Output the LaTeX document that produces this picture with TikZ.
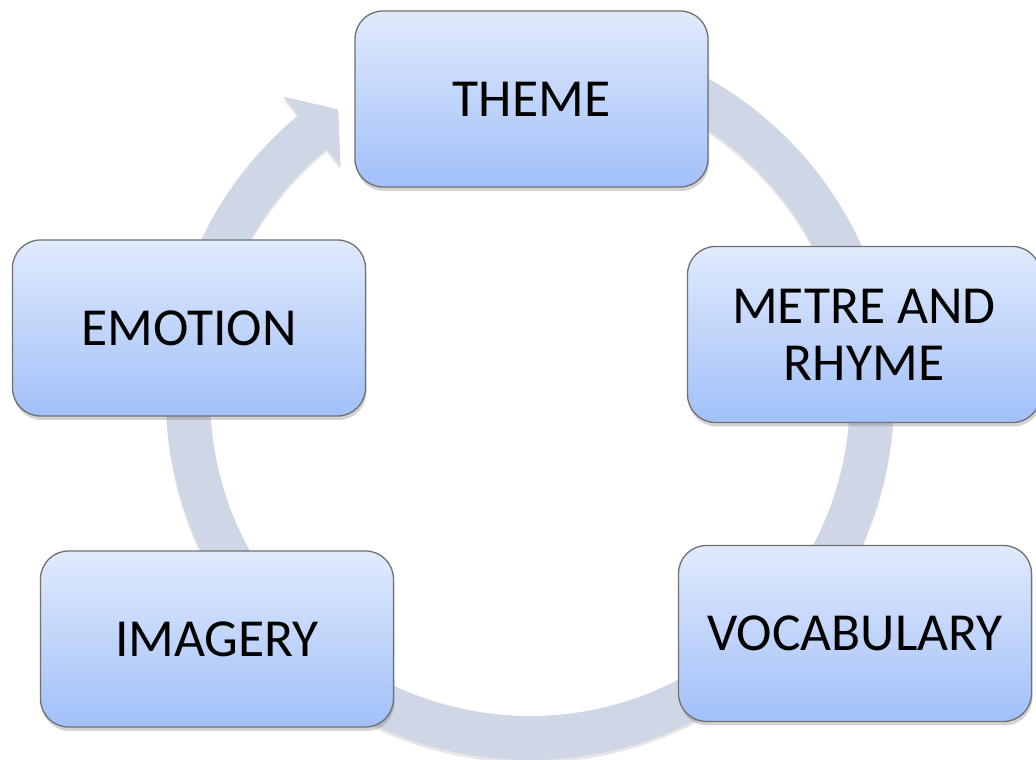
\documentclass[tikz,border=0pt]{standalone}
\usepackage{fontspec}
\setmainfont{Carlito}
\usetikzlibrary{shadows}
\definecolor{ringfill}{RGB}{207,214,229}
\definecolor{boxtop}{RGB}{224,234,252}
\definecolor{boxbot}{RGB}{161,192,249}
\definecolor{boxline}{RGB}{112,112,112}
\begin{document}
\begin{tikzpicture}[x=1pt,y=1pt,
  stage/.style={draw=boxline, line width=1.3pt, rounded corners=28pt,
    top color=boxtop, bottom color=boxbot,
    minimum width=353pt, minimum height=176pt, inner sep=0pt,
    align=center, font=\fontsize{53.5}{57}\selectfont,
    drop shadow={shadow xshift=1pt, shadow yshift=-4pt, opacity=0.35}},
  ring/.style={fill=ringfill,
    drop shadow={shadow xshift=0pt, shadow yshift=-3pt, opacity=0.2}}]
\useasboundingbox (0,0) rectangle (1036,760);

% continuous cycle band with its arrowhead
\begin{scope}[shift={(530,364)}]
  \fill[ring] (80:364) arc[start angle=80, end angle=-230.5, radius=364]
    -- (-230.5:388) -- (-236.2:345) -- (-230.5:298) -- (-230.5:320)
    arc[start angle=-230.5, end angle=80, radius=320] -- cycle;
\end{scope}

% stages of the cycle
\node[stage] (theme)   at (531.5,661) {THEME};
\node[stage] (metre)   at (864,425.5) {METRE AND\\RHYME};
\node[stage] (vocab)   at (855,126.5) {VOCABULARY};
\node[stage] (imagery) at (217,121)   {IMAGERY};
\node[stage] (emotion) at (189,432)   {EMOTION};
\end{tikzpicture}
\end{document}
